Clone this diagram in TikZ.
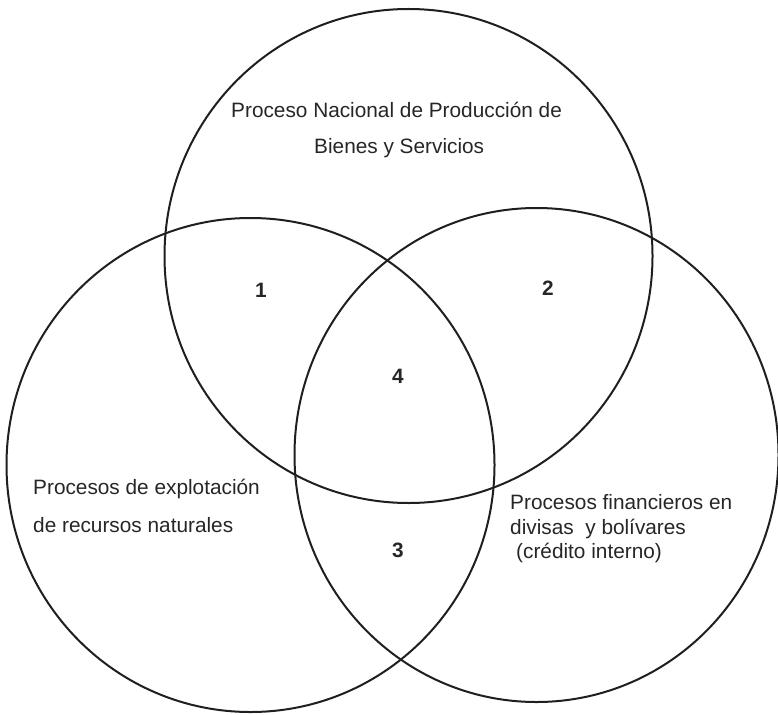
\documentclass[tikz,border=0pt]{standalone}
\usepackage{fontspec}
\setmainfont{Liberation Sans}
\begin{document}
\begin{tikzpicture}[x=1pt,y=-1pt,
  ring/.style={draw=black!88, line width=2pt},
  lbl/.style={anchor=base west, inner sep=0pt, font=\fontsize{20.8}{24}\selectfont, text=black!85},
  num/.style={anchor=center, inner sep=0pt, font=\fontsize{20.8}{24}\selectfont\bfseries, text=black!85}]
\useasboundingbox (0,0) rectangle (778,714);
% circles
\draw[ring] (408.5,256) ellipse [x radius=244, y radius=247];
\draw[ring] (250.5,465) ellipse [x radius=244, y radius=247];
\draw[ring] (536.5,455) ellipse [x radius=242, y radius=247];
% top label
\node[lbl] (t1) at (231,117.5) {Proceso Nacional de Producción de};
\node[lbl] (t2) at (314,153.5) {Bienes y Servicios};
% left label
\node[lbl] (l1) at (33,494.5) {Procesos de explotación};
\node[lbl] (l2) at (33,532.5) {de recursos naturales};
% right label
\node[lbl] (r1) at (510,509) {Procesos financieros en};
\node[lbl] (r2) at (510,534) {divisas\ \ y bolívares};
\node[lbl] (r3) at (516,558) {(crédito interno)};
% numbers
\node[num] (n1) at (261,290) {1};
\node[num] (n2) at (548,288) {2};
\node[num] (n4) at (398,376) {4};
\node[num] (n3) at (398,550) {3};
\end{tikzpicture}
\end{document}
